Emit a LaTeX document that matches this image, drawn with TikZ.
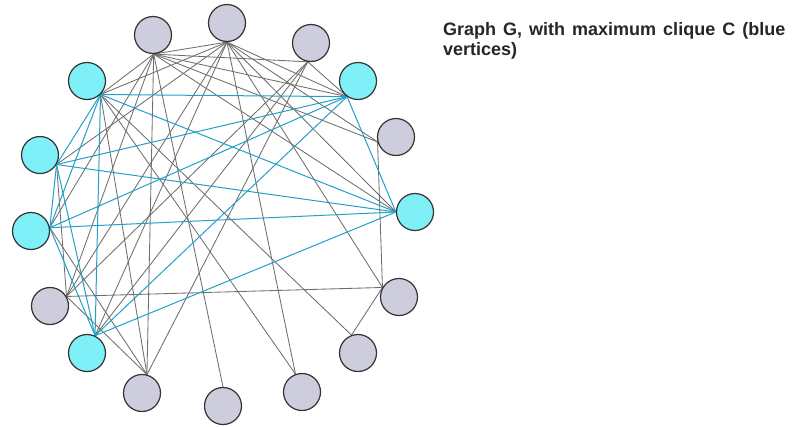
\documentclass[tikz,border=0pt]{standalone}
\usepackage{fontspec}
\setmainfont{Liberation Sans}
\usetikzlibrary{backgrounds}
\definecolor{gfill}{RGB}{205,205,222}
\definecolor{cfill}{RGB}{128,240,248}
\definecolor{edgegray}{RGB}{110,110,110}
\definecolor{edgeblue}{RGB}{35,160,200}
\begin{document}
\begin{tikzpicture}[x=1pt,y=-1pt,
  vg/.style={circle,draw=black!80,line width=1.2pt,fill=gfill,minimum size=37pt,inner sep=0pt},
  vc/.style={vg,fill=cfill},
  ge/.style={draw=edgegray,line width=0.85pt},
  be/.style={draw=edgeblue,line width=1pt}]
\useasboundingbox (0,0) rectangle (810,426);
% vertices
\node[vg] (v1) at (153,35) {};
\node[vg] (v2) at (227,23) {};
\node[vg] (v3) at (311,43) {};
\node[vc] (v4) at (87,81) {};
\node[vc] (v5) at (358,81) {};
\node[vg] (v6) at (396,137) {};
\node[vc] (v7) at (40,155) {};
\node[vc] (v8) at (415,212) {};
\node[vc] (v9) at (31,231) {};
\node[vg] (v10) at (50,306) {};
\node[vg] (v11) at (399,297) {};
\node[vc] (v12) at (87,353) {};
\node[vg] (v13) at (358,353) {};
\node[vg] (v14) at (142,393) {};
\node[vg] (v15) at (302,392) {};
\node[vg] (v16) at (223,406) {};
% attachment points
\coordinate (a1) at (v1.-88);
\coordinate (a2) at (v2.-90);
\coordinate (a3) at (v3.-100);
\coordinate (a4) at (v4.-45);
\coordinate (a5) at (v5.-125);
\coordinate (a6) at (v6.-165);
\coordinate (a7) at (v7.-30);
\coordinate (a8) at (v8.180);
\coordinate (a9) at (v9.10);
\coordinate (a10) at (v10.30);
\coordinate (a11) at (v11.150);
\coordinate (a12) at (v12.65);
\coordinate (a13) at (v13.110);
\coordinate (a14) at (v14.75);
\coordinate (a15) at (v15.110);
\coordinate (a16) at (v16.90);
\begin{scope}[on background layer]
% gray edges
\foreach \s/\t in {1/2,1/3,1/4,1/5,1/6,1/8,1/9,1/10,1/14,1/16,
  2/4,2/5,2/6,2/7,2/8,2/10,2/11,2/12,2/15,
  3/5,3/10,3/12,3/14,
  4/13,4/14,4/15,
  6/11,10/11,11/13,7/10,9/14,10/14}
  \draw[ge] (a\s) -- (a\t);
% clique edges
\foreach \s/\t in {4/5,4/7,4/8,4/9,4/12,5/7,5/8,5/9,5/12,7/8,7/9,7/12,8/9,8/12,9/12}
  \draw[be] (a\s) -- (a\t);
\end{scope}
\node[anchor=north west,align=left,font=\fontsize{18}{20}\selectfont\bfseries,text=black!85,inner sep=0pt] (title) at (443,22)
  {\spaceskip=7pt Graph G, with maximum clique C (blue\\vertices)};
\end{tikzpicture}
\end{document}
